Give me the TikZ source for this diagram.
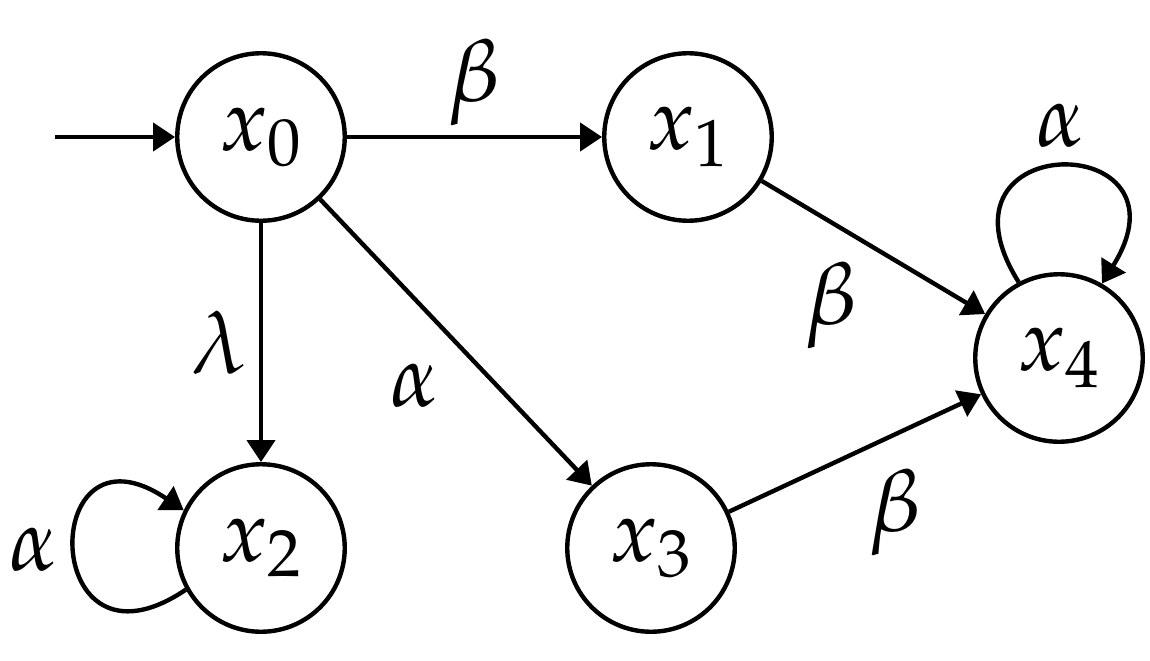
\documentclass[tikz,border=0pt]{standalone}
\usepackage{mathpazo}
\usetikzlibrary{positioning, arrows.meta}

\begin{document}
\begin{tikzpicture}[
        state/.style={circle, draw, line width=2.5pt, minimum size=3.35cm, inner sep=0pt, font=\fontsize{50}{60}\selectfont},
        lab/.style={inner sep=0pt, font=\fontsize{50}{60}\selectfont},
        arrow/.style={-{Triangle[length=0.44cm, width=0.56cm]}, line width=2.5pt},
        on grid
    ]
    \useasboundingbox (0,0) rectangle (23,-13.22);

    % States
    \node[state] (x0) at (5.22,-2.74) {$x_0$};
    \node[state, right=8.54cm of x0] (x1) {$x_1$};
    \node[state, below=8.22cm of x0] (x2) {$x_2$};
    \node[state, right=7.8cm of x2] (x3) {$x_3$};
    \node[state, below right=4.42cm and 7.42cm of x1] (x4) {$x_4$};

    % Initial arrow
    \coordinate[left=4.12cm of x0] (init);
    \draw[arrow] (init) -- (x0.west);

    % Transitions
    \draw[arrow] (x0) -- node[lab, midway, yshift=1.1cm] {$\beta$} (x1);
    \draw[arrow] (x0) -- node[lab, midway, xshift=-0.84cm] {$\lambda$} (x2);
    \draw[arrow] (x0) -- node[lab, midway, xshift=-0.82cm, yshift=-0.86cm] {$\alpha$} (x3);
    \draw[arrow] (x1) -- node[lab, midway, xshift=-0.85cm, yshift=-1.15cm] {$\beta$} (x4);
    \draw[arrow] (x3) -- node[lab, midway, xshift=0.8cm, yshift=-1.18cm] {$\beta$} (x4);

    % Self loops
    \draw[arrow] (x4.118) to[out=122, in=58, looseness=5.6] node[lab, midway, above=0.34cm] {$\alpha$} (x4.60);
    \draw[arrow] (x2.209) to[out=214, in=146, looseness=5.7] node[lab, midway, left=0.3cm] {$\alpha$} (x2.154);

\end{tikzpicture}
\end{document}
